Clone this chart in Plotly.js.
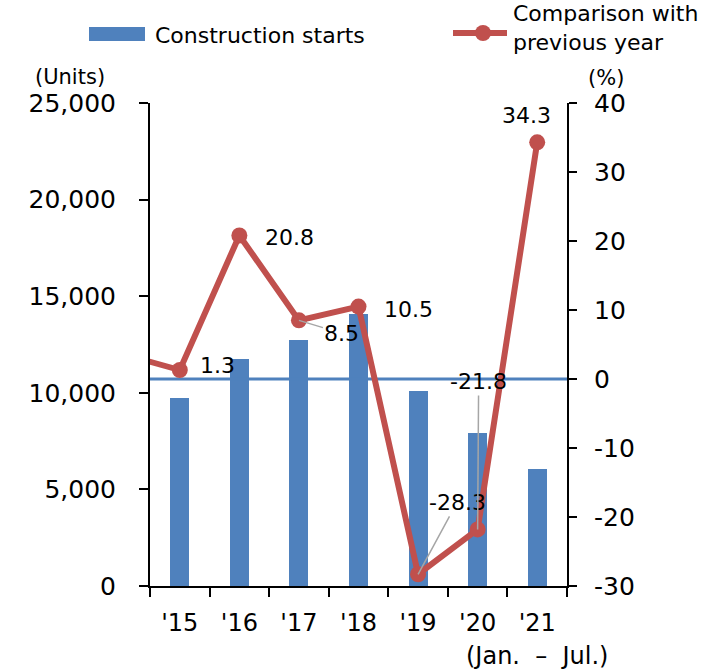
<!DOCTYPE html>
<html>
<head>
<meta charset="utf-8">
<script src="https://cdn.plot.ly/plotly-3.0.1.min.js"></script>
<style>html,body{margin:0;padding:0;background:#fff;}#chart{width:710px;height:670px;}</style>
</head>
<body>
<div id="chart"></div>
<script>
// ---- data ----
const years = ["'15", "'16", "'17", "'18", "'19", "'20", "'21"];
const starts = [9730, 11750, 12750, 14090, 10100, 7900, 6060];      // units
const yoy = [1.3, 20.8, 8.5, 10.5, -28.3, -21.8, 34.3];            // % vs previous year
const yoyPrevYear = 3.7;                                           // '14 value (line enters from left edge)
const leftTicks = [0, 5000, 10000, 15000, 20000, 25000];
const leftTickText = ["0", "5,000", "10,000", "15,000", "20,000", "25,000"];
const rightTicks = [-30, -20, -10, 0, 10, 20, 30, 40];
const rightTickText = ["-30", "-20", "-10", "0", "10", "20", "30", "40"];
const seriesNames = ["Construction starts", "Comparison with<br>previous year"];

// ---- styling ----
const BLUE = '#4F81BD', RED = '#C0504D', GREY = '#A6A6A6';
const FONT = 'DejaVu Sans, Verdana, sans-serif';
const M = {l: 150, r: 143, t: 103, b: 84}, W = 710, H = 670;
const PW = W - M.l - M.r, PH = H - M.t - M.b;
const px = x => (x - M.l) / PW;      // pixel -> paper x
const py = y => (H - M.b - y) / PH;  // pixel -> paper y

const idx = years.map((_, i) => i);
const xRange = [-0.5, years.length - 0.5];

// label offsets in pixels (dx, dy) and whether a leader line is drawn
const labelPos = [[38, -5, false], [50, 2, false], [43, 13, true], [50, 3, false],
                  [39, -72, true], [1, -148, true], [-11, -27, false]];

const traces = [
  {type: 'bar', x: idx, y: starts, yaxis: 'y', width: 0.32,
   marker: {color: BLUE}, hoverinfo: 'skip', showlegend: false},
  {type: 'scatter', mode: 'lines', x: xRange, y: [0, 0], yaxis: 'y2',
   line: {color: BLUE, width: 3}, hoverinfo: 'skip', showlegend: false, cliponaxis: false},
  {type: 'scatter', mode: 'lines+markers', x: [-1].concat(idx), y: [yoyPrevYear].concat(yoy), yaxis: 'y2',
   line: {color: RED, width: 6}, marker: {color: RED, size: 16}, hoverinfo: 'skip', showlegend: false}
];

const annotations = yoy.map((v, i) => ({
  x: i, y: v, xref: 'x', yref: 'y2', text: v.toFixed(1),
  showarrow: true, ax: labelPos[i][0], ay: labelPos[i][1], axref: 'pixel', ayref: 'pixel',
  arrowhead: 0, arrowwidth: 1.5, standoff: 0, startstandoff: 0,
  arrowcolor: labelPos[i][2] ? GREY : 'rgba(0,0,0,0)',
  font: {size: 22, color: '#000', family: FONT}
}));

annotations.push(
  {xref: 'paper', yref: 'paper', x: px(153), y: py(35), xanchor: 'left', yanchor: 'middle',
   text: seriesNames[0], showarrow: false, font: {size: 22, color: '#000', family: FONT}},
  {xref: 'paper', yref: 'paper', x: px(511), y: py(28), xanchor: 'left', yanchor: 'middle', align: 'left',
   text: seriesNames[1], showarrow: false, font: {size: 22, color: '#000', family: FONT}},
  {xref: 'paper', yref: 'paper', x: px(70), y: py(77), xanchor: 'center', yanchor: 'middle',
   text: '(Units)', showarrow: false, font: {size: 21, color: '#000', family: FONT}},
  {xref: 'paper', yref: 'paper', x: px(606), y: py(78), xanchor: 'center', yanchor: 'middle',
   text: '(%)', showarrow: false, font: {size: 21, color: '#000', family: FONT}},
  {xref: 'paper', yref: 'paper', x: px(537), y: py(656), xanchor: 'center', yanchor: 'middle',
   text: '(Jan.&nbsp;&nbsp;–&nbsp;&nbsp;Jul.)', showarrow: false, font: {size: 24, color: '#000', family: FONT}}
);

const shapes = [
  {type: 'rect', xref: 'paper', yref: 'paper', x0: px(89), x1: px(145), y0: py(41), y1: py(27),
   fillcolor: BLUE, line: {width: 0}},
  {type: 'line', xref: 'paper', yref: 'paper', x0: px(453), x1: px(507), y0: py(33), y1: py(33),
   line: {color: RED, width: 6}},
  {type: 'circle', xref: 'paper', yref: 'paper', x0: px(475), x1: px(491), y0: py(41), y1: py(25),
   fillcolor: RED, line: {color: RED, width: 0}}
];

const axisCommon = {showgrid: false, zeroline: false, showline: true, linecolor: '#000', linewidth: 2,
                    tickcolor: '#000', tickwidth: 2, fixedrange: true};

const layout = {
  width: W, height: H, margin: M, paper_bgcolor: '#fff', plot_bgcolor: '#fff',
  font: {family: FONT, color: '#000'}, showlegend: false, bargap: 0,
  xaxis: Object.assign({}, axisCommon, {
    range: xRange, tickmode: 'array', tickvals: idx, ticktext: years, ticks: '',
    tickfont: {size: 24}, ticklabelstandoff: 14,
    minor: {tickmode: 'linear', tick0: -0.5, dtick: 1, ticks: 'outside', ticklen: 9,
            tickwidth: 2, tickcolor: '#000', showgrid: false}
  }),
  yaxis: Object.assign({}, axisCommon, {
    range: [0, 25000], tickmode: 'array', tickvals: leftTicks, ticktext: leftTickText,
    ticks: 'outside', ticklen: 9, tickfont: {size: 25}, ticklabelstandoff: 18
  }),
  yaxis2: Object.assign({}, axisCommon, {
    overlaying: 'y', side: 'right', range: [-30, 40], tickmode: 'array',
    tickvals: rightTicks, ticktext: rightTickText,
    ticks: 'outside', ticklen: 8, tickfont: {size: 25}, ticklabelstandoff: 12
  }),
  annotations: annotations, shapes: shapes
};

Plotly.newPlot('chart', traces, layout, {staticPlot: true, displayModeBar: false});
</script>
</body>
</html>
